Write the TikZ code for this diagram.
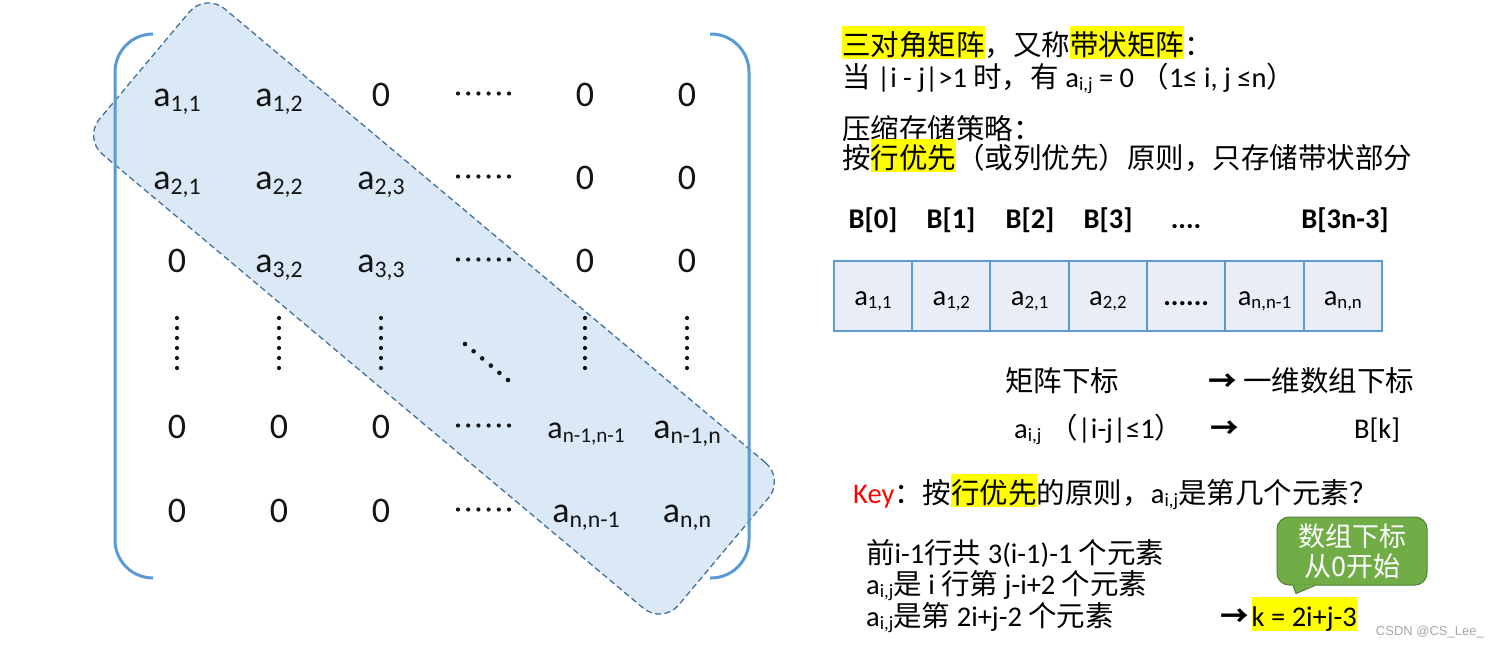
\documentclass[tikz,border=0pt]{standalone}
\usepackage{fontspec}
\usepackage{graphicx}
\setmainfont{Carlito}
\newfontfamily\cjk{Noto Sans CJK SC}
\newfontfamily\wmfont{Liberation Sans}
\usetikzlibrary{positioning, calc}
\definecolor{bracketblue}{RGB}{91,155,213}
\definecolor{bandfill}{RGB}{219,232,245}
\definecolor{banddash}{RGB}{65,113,156}
\definecolor{cellfill}{RGB}{232,237,246}
\definecolor{cellblue}{RGB}{91,155,213}
\definecolor{hintgreen}{RGB}{112,173,71}
\definecolor{hintdark}{RGB}{80,126,50}
\definecolor{hlyellow}{RGB}{255,255,0}
\definecolor{keyred}{RGB}{255,0,0}
\definecolor{textdark}{RGB}{20,20,20}
\newcommand{\zh}[1]{{\cjk #1}}
\newcommand{\idx}[1]{\raisebox{-0.14em}{\scalebox{0.66}{#1}}}
\newcommand{\hl}[1]{{\setlength{\fboxsep}{0pt}\colorbox{hlyellow}{\rule[-0.14em]{0pt}{1.16em}#1}}}
\tikzset{
  band/.style={draw=banddash, fill=bandfill, dash pattern=on 6pt off 3.5pt,
    line width=1.3pt, rounded corners=25pt},
  bracket/.style={draw=bracketblue, line width=3pt, rounded corners=38pt},
  mat/.style={anchor=base, inner sep=0pt, text=textdark,
    font=\fontsize{36}{40}\selectfont},
  cell/.style={rectangle, draw=cellblue, fill=cellfill, line width=2pt,
    minimum width=78.3pt, minimum height=70pt, inner sep=0pt, outer sep=0pt,
    text height=21pt, text depth=3pt, font=\fontsize{28.5}{32}\selectfont},
  blabel/.style={anchor=base, inner sep=0pt, font=\fontsize{28.5}{32}\selectfont\bfseries},
  txt/.style={anchor=base west, inner sep=0pt, font=\fontsize{28.5}{34}\selectfont},
  hint/.style={rectangle, rounded corners=12pt, fill=hintgreen, draw=hintdark,
    line width=1pt, minimum width=150pt, minimum height=68pt, align=center,
    text=white, font=\cjk\fontsize{27}{30}\selectfont}
}
\begin{document}
\begin{tikzpicture}[x=1pt, y=-1pt]
  \useasboundingbox (0,0) rectangle (1496,645);

  % band of the three diagonals
  \node[band, rotate=-40, minimum width=756pt, minimum height=190pt] (band) at (434,308.5) {};

  % brackets
  \draw[bracket] (153,34) -- (115,34) -- (115,578) -- (153,578);
  \draw[bracket] (710,34) -- (749,34) -- (749,578) -- (710,578);

  % matrix entries
  \node[mat] (m11) at (177,106) {a\idx{1,1}};
  \node[mat] (m12) at (279,106) {a\idx{1,2}};
  \node[mat] (m13) at (381,106) {0};
  \node[mat] (m15) at (585,106) {0};
  \node[mat] (m16) at (687,106) {0};

  \node[mat] (m21) at (177,189) {a\idx{2,1}};
  \node[mat] (m22) at (279,189) {a\idx{2,2}};
  \node[mat] (m23) at (381,189) {a\idx{2,3}};
  \node[mat] (m25) at (585,189) {0};
  \node[mat] (m26) at (687,189) {0};

  \node[mat] (m31) at (177,272) {0};
  \node[mat] (m32) at (279,272) {a\idx{3,2}};
  \node[mat] (m33) at (381,272) {a\idx{3,3}};
  \node[mat] (m35) at (585,272) {0};
  \node[mat] (m36) at (687,272) {0};

  \node[mat] (m51) at (177,438) {0};
  \node[mat] (m52) at (279,438) {0};
  \node[mat] (m53) at (381,438) {0};
  \node[mat, font=\fontsize{32}{36}\selectfont] (m55) at (586,438) {a\idx{n-1,n-1}};
  \node[mat] (m56) at (687,438) {a\idx{n-1,n}};

  \node[mat] (m61) at (177,522) {0};
  \node[mat] (m62) at (279,522) {0};
  \node[mat] (m63) at (381,522) {0};
  \node[mat] (m65) at (586,522) {a\idx{n,n-1}};
  \node[mat] (m66) at (687,522) {a\idx{n,n}};

  % dots
  \foreach \y in {93.5,176.5,259.5,425.5,509.5}
    \foreach \k in {0,...,5}
      \fill[textdark] (458+10.2*\k,\y) circle (2.1pt);
  \foreach \x in {177,279,381,585,687}
    \foreach \k in {0,...,5}
      \fill[textdark] (\x,318+10*\k) circle (2.1pt);
  \foreach \k in {0,...,5}
    \fill[textdark] (465+8.6*\k,344+7.2*\k) circle (2.3pt);

  % definition
  \node[txt] (title) at (842,55) {\hl{\zh{三对角矩阵}}\zh{，又称}\hl{\zh{带状矩阵}}\zh{：}};
  \node[txt] (cond) at (842,87) {\zh{当} |i - j|>1 \zh{时，有} a\idx{i,j} = 0 \zh{（}1≤ i, j ≤n\zh{）}};
  \node[txt] (strategy) at (842,139) {\zh{压缩存储策略：}};
  \node[txt] (rowfirst) at (842,168) {\zh{按}\hl{\zh{行优先}}\zh{（或列优先）原则，只存储带状部分}};

  % one-dimensional array
  \node[blabel] (b0) at (873,228) {B[0]};
  \node[blabel] (b1) at (951,228) {B[1]};
  \node[blabel] (b2) at (1030,228) {B[2]};
  \node[blabel] (b3) at (1108,228) {B[3]};
  \node[blabel] (bdots) at (1186,228) {....};
  \node[blabel] (blast) at (1345,228) {B[3n-3]};

  \node[cell] (c1) at (873,296) {a\idx{1,1}};
  \node[cell, right=0pt of c1] (c2) {a\idx{1,2}};
  \node[cell, right=0pt of c2] (c3) {a\idx{2,1}};
  \node[cell, right=0pt of c3] (c4) {a\idx{2,2}};
  \node[cell, right=0pt of c4] (c5) {\textbf{......}};
  \node[cell, right=0pt of c5] (c6) {a\idx{n,n-1}};
  \node[cell, right=0pt of c6] (c7) {a\idx{n,n}};

  % index mapping
  \node[txt] (idxhead) at (1005,391) {\zh{矩阵下标}};
  \node[txt] (arrhead) at (1208,391) {\zh{\bfseries →} \zh{一维数组下标}};
  \node[txt] (elem) at (1014,438) {a\idx{i,j}\hspace{8pt}\zh{（}|i-j|≤1\zh{）}};
  \node[txt] (maparrow) at (1210,438) {\zh{\bfseries →}};
  \node[txt] (bk) at (1354,438) {B[k]};

  % key question
  \node[txt] (key) at (853,503) {\textcolor{keyred}{Key}\zh{：按}\hl{\zh{行优先}}\zh{的原则，}a\idx{i,j}\zh{是第几个元素？}};
  \node[txt] (prev) at (866,563) {\zh{前}i-1\zh{行共} 3(i-1)-1 \zh{个元素}};
  \node[txt] (inrow) at (866,594) {a\idx{i,j}\zh{是} i \zh{行第} j-i+2 \zh{个元素}};
  \node[txt] (nth) at (866,626) {a\idx{i,j}\zh{是第} 2i+j-2 \zh{个元素}};
  \node[txt] (kres) at (1220,626) {\zh{\bfseries →}\hspace{3pt}\hl{k = 2i+j-3}};

  % callout
  \node[hint] (tip) at (1352,551) {数组下标\\从0开始};
  \fill[hintgreen] ($(tip.south)+(-59,-0.8)$) -- ($(tip.south)+(-56,8)$) -- ($(tip.south)+(-37,-0.8)$) -- cycle;
  \draw[hintdark, line width=1pt] ($(tip.south)+(-59,0)$) -- ($(tip.south)+(-56,8)$) -- ($(tip.south)+(-37,0)$);

  \node[anchor=east, inner sep=0pt, text=gray!70, font=\wmfont\fontsize{13}{13}\selectfont] (wm) at (1484,632) {CSDN @CS\_Lee\_};
\end{tikzpicture}
\end{document}
